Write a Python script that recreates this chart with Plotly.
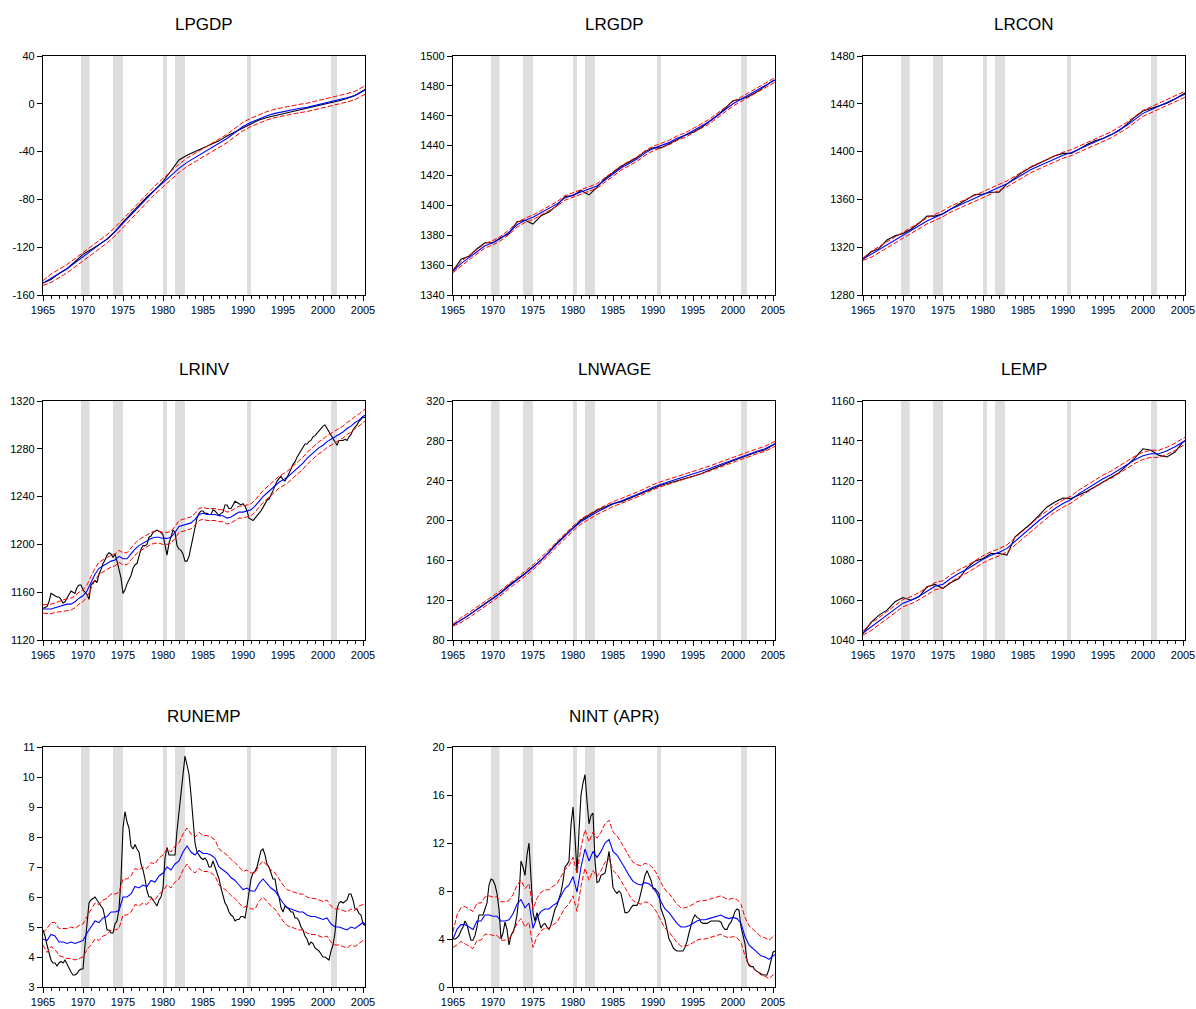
import plotly.graph_objects as go

W, H = 1196, 1009

# ---------------- dates ----------------
X_ANN = list(range(1965, 2006)) + [2005.25]
X_SEMI = [1965 + 0.5 * i for i in range(81)] + [2005.25]
X_QTR = [1965 + 0.25 * i for i in range(162)]

RECESSIONS = [(1969.75, 1970.83), (1973.75, 1975.0), (1980.0, 1980.5),
              (1981.5, 1982.75), (1990.5, 1991.0), (2001.0, 2001.75)]

# ---------------- LPGDP (annual) ----------------
LPGDP_ACT = [-150, -147, -142, -138, -132, -126, -122, -118, -113.5, -107,
             -99, -92, -85, -78, -72, -65, -56, -47, -43, -40,
             -37, -34, -31, -27, -23.5, -20, -16.5, -13.5, -11.5, -10,
             -8, -6.5, -5, -4, -2.5, -1, 0.5, 2.5, 4.5, 7, 11, 12]
LPGDP_FIT = [-150, -146, -142, -138, -133, -128, -123, -118, -113, -107,
             -100, -93, -86, -79, -72, -66, -60, -54, -49, -45,
             -41, -37, -33, -29, -24, -19, -15.5, -12.5, -10, -8,
             -6.5, -5, -4, -3, -1.5, 0, 1.5, 3, 5, 7, 10.5, 11.5]
LPGDP_UP = [-148, -142.5, -138.5, -134.5, -129.5, -124.5, -119.5, -114.5, -109.5, -103.5,
            -96.5, -89.5, -82.5, -75.5, -68.5, -62.5, -56.5, -50.5, -45.5, -41.5,
            -37.5, -33.5, -29.5, -25.5, -20.5, -15.5, -12, -9, -6.5, -4.5,
            -3, -1.5, -0.5, 0.5, 2, 3.5, 5, 6.5, 8.5, 10.5, 14, 15]
LPGDP_LO = [-152, -149.5, -145.5, -141.5, -136.5, -131.5, -126.5, -121.5, -116.5, -110.5,
            -103.5, -96.5, -89.5, -82.5, -75.5, -69.5, -63.5, -57.5, -52.5, -48.5,
            -44.5, -40.5, -36.5, -32.5, -27.5, -22.5, -19, -16, -13.5, -11.5,
            -10, -8.5, -7.5, -6.5, -5, -3.5, -2, -0.5, 1.5, 3.5, 7, 8]

# ---------------- LRGDP (annual) ----------------
LRGDP_ACT = [1356, 1364, 1366, 1371, 1375, 1375, 1378.5, 1381, 1389, 1390,
             1387.5, 1393, 1395.5, 1400, 1406, 1406.5, 1410, 1407, 1412, 1418,
             1422, 1426, 1429, 1432, 1436, 1438.5, 1438.5, 1441, 1444, 1447,
             1449, 1452, 1456, 1460, 1465, 1470, 1471, 1473, 1476, 1480, 1483.5, 1484]
LRGDP_FIT = [1356, 1361, 1365, 1369, 1373, 1375, 1378, 1382, 1387, 1390,
             1392, 1395, 1398, 1401, 1405, 1407, 1409, 1411, 1413, 1417,
             1421, 1425, 1428, 1431, 1435, 1438, 1440, 1442, 1445, 1447,
             1450, 1453, 1456, 1460, 1464, 1468, 1471, 1474, 1477, 1480, 1483, 1484]
LRGDP_UP = [1357, 1362.5, 1366.5, 1370.5, 1374.5, 1376.5, 1379.5, 1383.5, 1388.5, 1391.5,
            1393.5, 1396.5, 1399.5, 1402.5, 1406.5, 1408.5, 1410.5, 1412.5, 1414.5, 1418.5,
            1422.5, 1426.5, 1429.5, 1432.5, 1436.5, 1439.5, 1441.5, 1443.5, 1446.5, 1448.5,
            1451.5, 1454.5, 1457.5, 1461.5, 1465.5, 1469.5, 1472.5, 1475.5, 1478.5, 1481.5, 1484.5, 1485.5]
LRGDP_LO = [1355, 1359.5, 1363.5, 1367.5, 1371.5, 1373.5, 1376.5, 1380.5, 1385.5, 1388.5,
            1390.5, 1393.5, 1396.5, 1399.5, 1403.5, 1405.5, 1407.5, 1409.5, 1411.5, 1415.5,
            1419.5, 1423.5, 1426.5, 1429.5, 1433.5, 1436.5, 1438.5, 1440.5, 1443.5, 1445.5,
            1448.5, 1451.5, 1454.5, 1458.5, 1462.5, 1466.5, 1469.5, 1472.5, 1475.5, 1478.5, 1481.5, 1482.5]

# ---------------- LRCON (annual) ----------------
LRCON_ACT = [1310, 1316, 1319, 1326, 1329.5, 1331.5, 1335, 1340, 1346, 1346,
             1348, 1352, 1356, 1360, 1364, 1364.5, 1366, 1366, 1373, 1378,
             1383, 1387, 1390, 1393, 1396.5, 1398.5, 1398.5, 1402, 1406, 1409,
             1411, 1414, 1417.5, 1423, 1429, 1434, 1436, 1438.5, 1440.5, 1444, 1448, 1449]
LRCON_FIT = [1310, 1314, 1318, 1322, 1326, 1330, 1334, 1338, 1342, 1345,
             1348, 1352, 1355, 1358, 1361, 1364, 1367, 1370, 1373, 1377,
             1381, 1385, 1388, 1391, 1394, 1397, 1399, 1402, 1405, 1408,
             1411, 1414, 1418, 1422, 1427, 1432, 1435, 1438, 1441, 1444, 1447, 1448]
LRCON_UP = [1311, 1316.5, 1320.5, 1324.5, 1328.5, 1332.5, 1336.5, 1340.5, 1344.5, 1347.5,
            1350.5, 1354.5, 1357.5, 1360.5, 1363.5, 1366.5, 1369.5, 1372.5, 1375.5, 1379.5,
            1383.5, 1387.5, 1390.5, 1393.5, 1396.5, 1399.5, 1401.5, 1404.5, 1407.5, 1410.5,
            1413.5, 1416.5, 1420.5, 1424.5, 1429.5, 1434.5, 1437.5, 1440.5, 1443.5, 1446.5, 1449.5, 1450.5]
LRCON_LO = [1309, 1311.5, 1315.5, 1319.5, 1323.5, 1327.5, 1331.5, 1335.5, 1339.5, 1342.5,
            1345.5, 1349.5, 1352.5, 1355.5, 1358.5, 1361.5, 1364.5, 1367.5, 1370.5, 1374.5,
            1378.5, 1382.5, 1385.5, 1388.5, 1391.5, 1394.5, 1396.5, 1399.5, 1402.5, 1405.5,
            1408.5, 1411.5, 1415.5, 1419.5, 1424.5, 1429.5, 1432.5, 1435.5, 1438.5, 1441.5, 1444.5, 1445.5]

# ---------------- LNWAGE (annual) ----------------
LNWAGE_ACT = [95, 100, 105, 111, 116.7, 121.7, 127.7, 135, 140.7, 146.8,
              153.4, 160, 168.5, 177.5, 185, 192.6, 200.3, 205.3, 210.3, 213.6,
              217, 218.7, 222, 225.4, 228.7, 232.7, 235.4, 237.7, 239.7, 242,
              244.4, 247, 250.4, 253.8, 257, 260, 263, 266, 268.8, 271, 275.5, 277]
LNWAGE_FIT = [95, 100, 105, 110.5, 116, 121.5, 127.5, 134, 140, 146.5,
              153, 160, 168, 176.5, 184.5, 192, 199, 204, 208.5, 212.5,
              216.5, 219.5, 222.5, 226, 229.5, 233.5, 236.5, 239, 241.5, 244,
              246.5, 249, 252, 255, 258, 261, 264, 267, 269.5, 272, 276, 277]
LNWAGE_UP = [96, 102.5, 107.5, 113, 118.5, 124, 130, 136.5, 142.5, 149,
             155.5, 162.5, 170.5, 179, 187, 194.5, 201.5, 206.5, 211, 215,
             219, 222, 225, 228.5, 232, 236, 239, 241.5, 244, 246.5,
             249, 251.5, 254.5, 257.5, 260.5, 263.5, 266.5, 269.5, 272, 274.5, 278.5, 279.5]
LNWAGE_LO = [94, 97.5, 102.5, 108, 113.5, 119, 125, 131.5, 137.5, 144,
             150.5, 157.5, 165.5, 174, 182, 189.5, 196.5, 201.5, 206, 210,
             214, 217, 220, 223.5, 227, 231, 234, 236.5, 239, 241.5,
             244, 246.5, 249.5, 252.5, 255.5, 258.5, 261.5, 264.5, 267, 269.5, 273.5, 274.5]

# ---------------- LEMP (annual) ----------------
LEMP_ACT = [1043.3, 1048.8, 1052.5, 1055, 1059.2, 1061.3, 1060, 1061.7, 1066.7, 1067.9,
            1065.9, 1068.9, 1070.9, 1076.2, 1079.6, 1080.9, 1083.4, 1083.4, 1082.6, 1091.8,
            1095.1, 1098.5, 1102.6, 1106.8, 1109.3, 1111.3, 1111, 1112.7, 1114.7, 1116.9,
            1119.4, 1121.9, 1124, 1127.7, 1131.4, 1136, 1135.3, 1132.7, 1131.9, 1134.4, 1139.4, 1140]
LEMP_FIT = [1043.5, 1046.5, 1049.5, 1052.5, 1055.5, 1058.5, 1060, 1062, 1064.5, 1067,
            1068, 1071, 1073.5, 1075.5, 1078, 1080.5, 1082.5, 1084, 1086, 1089.5,
            1093, 1096.5, 1100, 1103, 1106, 1108.5, 1110.5, 1113.5, 1116, 1118.5,
            1121, 1123, 1125.5, 1128, 1130.5, 1132.5, 1133.5, 1133.5, 1135, 1137, 1139.5, 1140]
LEMP_UP = [1044.5, 1048.3, 1051.3, 1054.3, 1057.3, 1060.3, 1061.8, 1063.8, 1066.3, 1068.8,
           1069.8, 1072.8, 1075.3, 1077.3, 1079.8, 1082.3, 1084.3, 1085.8, 1087.8, 1091.3,
           1094.8, 1098.3, 1101.8, 1104.8, 1107.8, 1110.3, 1112.3, 1115.3, 1117.8, 1120.3,
           1122.8, 1124.8, 1127.3, 1129.8, 1132.3, 1134.3, 1135.3, 1135.3, 1136.8, 1138.8, 1141.3, 1141.8]
LEMP_LO = [1042.5, 1044.7, 1047.7, 1050.7, 1053.7, 1056.7, 1058.2, 1060.2, 1062.7, 1065.2,
           1066.2, 1069.2, 1071.7, 1073.7, 1076.2, 1078.7, 1080.7, 1082.2, 1084.2, 1087.7,
           1091.2, 1094.7, 1098.2, 1101.2, 1104.2, 1106.7, 1108.7, 1111.7, 1114.2, 1116.7,
           1119.2, 1121.2, 1123.7, 1126.2, 1128.7, 1130.7, 1131.7, 1131.7, 1133.2, 1135.2, 1137.7, 1138.2]

# ---------------- LRINV (actual quarterly, fit/bands semi-annual) ----------------
LRINV_ACT = [1146.5, 1147, 1148, 1152, 1159, 1158, 1157, 1156, 1156, 1154, 1151, 1152,
             1155, 1158, 1161, 1160, 1159, 1164, 1166, 1166, 1162, 1160, 1158, 1154,
             1166, 1168, 1170, 1168, 1175, 1179, 1184, 1187, 1191, 1193, 1192, 1189,
             1192, 1186, 1180, 1172, 1159, 1162, 1167, 1170, 1174, 1180, 1183, 1184,
             1191, 1196, 1199, 1199, 1200, 1206, 1207, 1210, 1211, 1212, 1211, 1210,
             1208, 1199, 1191, 1201, 1206, 1212, 1210, 1199, 1196, 1195, 1192, 1186,
             1186, 1190, 1198, 1206, 1215, 1222, 1226, 1228, 1228, 1226, 1226, 1225,
             1225, 1229, 1228, 1226, 1224, 1226, 1227, 1233, 1233, 1230, 1230, 1233,
             1236, 1235, 1234, 1233, 1234, 1232, 1228, 1222, 1221, 1220, 1222, 1224,
             1226, 1228, 1231, 1234, 1237, 1238, 1241, 1245, 1249, 1253, 1255, 1257,
             1254, 1253, 1256, 1259, 1263, 1267, 1269, 1273, 1276, 1279, 1282, 1284,
             1284, 1286, 1287, 1290, 1291, 1293, 1295, 1297, 1299, 1300, 1297, 1295,
             1292, 1289, 1286, 1283, 1287, 1287, 1287, 1288, 1287, 1290, 1292, 1296,
             1298, 1300, 1303, 1305, 1306.5, 1306]
LRINV_FIT = [1146, 1146, 1146, 1147, 1148, 1149, 1150, 1150, 1152, 1155,
             1157, 1161, 1168, 1175, 1180, 1182, 1184, 1186, 1187, 1190,
             1188, 1188, 1192, 1196, 1199, 1201, 1203, 1205, 1206, 1206,
             1205, 1205, 1206, 1210, 1215, 1216, 1217, 1218, 1221, 1225,
             1226, 1225, 1225, 1225, 1224, 1224, 1222, 1223, 1225, 1227,
             1227, 1228, 1229, 1232, 1236, 1240, 1243, 1246, 1249, 1252,
             1254, 1256, 1259, 1262, 1265, 1268, 1272, 1275, 1278, 1281,
             1283, 1286, 1288, 1290, 1292, 1294, 1297, 1299, 1302, 1304, 1307, 1308]
LRINV_UP = [1149.5, 1149.5, 1150, 1151, 1152.5, 1153.5, 1154.5, 1155, 1157, 1160,
            1162, 1166, 1173, 1180, 1185, 1187, 1189, 1191, 1192, 1195,
            1193, 1193, 1197, 1201, 1204, 1206, 1208, 1210, 1211, 1211,
            1210, 1210, 1211, 1215, 1220, 1221, 1222, 1223, 1226, 1230,
            1231, 1230, 1230, 1230, 1229, 1229, 1227, 1228, 1230, 1232,
            1232, 1233, 1234, 1237, 1241, 1245, 1248, 1251, 1254, 1257,
            1259, 1261, 1264, 1267, 1270, 1273, 1277, 1280, 1283, 1286,
            1288, 1291, 1293, 1295, 1297, 1299, 1302, 1304, 1307, 1309, 1312, 1313]
LRINV_LO = [1142.5, 1142.5, 1142, 1143, 1143.5, 1144.5, 1145, 1145, 1147, 1150,
            1152, 1156, 1163, 1170, 1175, 1177, 1179, 1181, 1182, 1185,
            1183, 1183, 1187, 1191, 1194, 1196, 1198, 1200, 1201, 1201,
            1200, 1200, 1201, 1205, 1210, 1211, 1212, 1213, 1216, 1220,
            1221, 1220, 1220, 1220, 1219, 1219, 1217, 1218, 1220, 1222,
            1222, 1223, 1224, 1227, 1231, 1235, 1238, 1241, 1244, 1247,
            1249, 1251, 1254, 1257, 1260, 1263, 1267, 1270, 1273, 1276,
            1278, 1281, 1283, 1285, 1287, 1289, 1292, 1294, 1297, 1299, 1302, 1303]

# ---------------- RUNEMP ----------------
RUNEMP_ACT = [4.9, 4.7, 4.4, 4.1, 3.9, 3.8, 3.8, 3.7, 3.8, 3.85, 3.8, 3.9,
              3.75, 3.6, 3.5, 3.4, 3.4, 3.45, 3.55, 3.6, 3.6, 4.4, 5.0, 5.8,
              5.9, 5.95, 6.0, 5.9, 5.8, 5.7, 5.6, 5.3, 4.9, 4.9, 4.8, 4.8,
              5.1, 5.2, 5.6, 6.6, 8.3, 8.85, 8.5, 8.3, 7.7, 7.6, 7.75, 7.6,
              7.5, 7.1, 6.9, 6.6, 6.2, 6.0, 6.0, 5.9, 5.8, 5.7, 5.9, 6.0,
              6.3, 7.3, 7.65, 7.4, 7.4, 7.4, 7.4, 8.2, 8.8, 9.4, 9.9, 10.7,
              10.4, 10.1, 9.4, 8.5, 7.8, 7.5, 7.4, 7.3, 7.25, 7.3, 7.2, 7.0,
              7.0, 7.2, 7.0, 6.8, 6.6, 6.3, 6.0, 5.8, 5.7, 5.5, 5.4, 5.35,
              5.2, 5.25, 5.25, 5.35, 5.35, 5.3, 5.7, 6.1, 6.6, 6.8, 6.85, 7.0,
              7.3, 7.55, 7.6, 7.4, 7.1, 7.0, 6.8, 6.6, 6.6, 6.2, 6.0, 5.65,
              5.5, 5.7, 5.65, 5.6, 5.5, 5.5, 5.3, 5.3, 5.2, 5.0, 4.9, 4.7,
              4.6, 4.4, 4.5, 4.45, 4.3, 4.25, 4.2, 4.1, 4.0, 4.0, 3.95, 3.9,
              4.2, 4.4, 4.8, 5.6, 5.8, 5.85, 5.8, 5.85, 5.9, 6.1, 6.1, 5.9,
              5.6, 5.6, 5.45, 5.4, 5.1, 5.05]
RUNEMP_FIT = [4.6, 4.55, 4.75, 4.7, 4.5, 4.5, 4.45, 4.5, 4.45, 4.5,
              4.55, 4.8, 5.0, 5.2, 5.15, 5.3, 5.35, 5.5, 5.5, 5.55,
              6.0, 6.0, 6.1, 6.35, 6.3, 6.4, 6.35, 6.55, 6.5, 6.7,
              6.8, 7.0, 6.9, 7.1, 7.2, 7.5, 7.7, 7.5, 7.4, 7.55,
              7.45, 7.45, 7.4, 7.3, 7.0, 6.9, 6.8, 6.65, 6.55, 6.4,
              6.25, 6.3, 6.2, 6.2, 6.45, 6.6, 6.45, 6.3, 6.2, 6.0,
              5.8, 5.65, 5.6, 5.55, 5.5, 5.5, 5.4, 5.35, 5.35, 5.3,
              5.25, 5.3, 5.1, 5.0, 5.0, 4.95, 4.9, 5.0, 4.95, 5.05, 5.15, 5.1]
RUNEMP_UP = [4.8, 4.95, 5.15, 5.15, 4.95, 4.95, 4.95, 5.0, 4.95, 5.05,
             5.1, 5.35, 5.6, 5.8, 5.75, 5.9, 5.95, 6.1, 6.1, 6.15,
             6.6, 6.6, 6.7, 6.95, 6.9, 7.0, 6.95, 7.15, 7.1, 7.3,
             7.4, 7.6, 7.5, 7.7, 7.8, 8.1, 8.3, 8.1, 8.0, 8.15,
             8.05, 8.05, 8.0, 7.9, 7.6, 7.5, 7.4, 7.25, 7.15, 7.0,
             6.85, 6.9, 6.8, 6.8, 7.05, 7.2, 7.05, 6.9, 6.8, 6.6,
             6.4, 6.25, 6.2, 6.15, 6.1, 6.1, 6.0, 5.95, 5.95, 5.9,
             5.85, 5.9, 5.7, 5.6, 5.6, 5.55, 5.5, 5.6, 5.55, 5.7, 5.75, 5.7]
RUNEMP_LO = [4.4, 4.15, 4.35, 4.25, 4.05, 4.0, 3.95, 3.95, 3.9, 3.95,
             4.0, 4.25, 4.4, 4.6, 4.55, 4.7, 4.75, 4.9, 4.9, 4.95,
             5.4, 5.4, 5.5, 5.75, 5.7, 5.8, 5.75, 5.95, 5.9, 6.1,
             6.2, 6.4, 6.3, 6.5, 6.6, 6.9, 7.1, 6.9, 6.8, 6.95,
             6.85, 6.85, 6.8, 6.7, 6.4, 6.3, 6.2, 6.05, 5.95, 5.8,
             5.65, 5.7, 5.6, 5.6, 5.85, 6.0, 5.85, 5.7, 5.6, 5.4,
             5.2, 5.05, 5.0, 4.95, 4.9, 4.9, 4.8, 4.75, 4.75, 4.7,
             4.65, 4.7, 4.5, 4.4, 4.4, 4.35, 4.3, 4.4, 4.35, 4.45, 4.55, 4.5]

# ---------------- NINT (APR) ----------------
NINT_ACT = [4.0, 4.0, 4.1, 4.3, 4.7, 5.0, 5.5, 5.2, 4.5, 3.9, 3.9, 4.3,
            5.0, 6.0, 6.0, 6.0, 6.5, 7.0, 8.5, 9.0, 8.9, 8.5, 7.8, 6.5,
            4.0, 4.5, 5.4, 4.8, 3.5, 4.3, 4.6, 5.1, 6.0, 7.6, 10.5, 10.0,
            9.3, 11.0, 12.0, 9.5, 6.2, 5.5, 6.2, 5.5, 4.9, 5.2, 5.3, 5.0,
            4.8, 5.2, 5.8, 6.5, 6.8, 7.3, 7.9, 8.8, 10.0, 10.2, 10.5, 13.5,
            15.0, 12.5, 9.5, 13.0, 16.0, 17.0, 17.7, 15.5, 13.6, 14.3, 14.5, 10.5,
            8.7, 8.8, 9.3, 9.4, 9.5, 10.3, 11.3, 10.0, 8.3, 8.0, 7.8, 8.0,
            7.8, 7.0, 6.2, 6.2, 6.3, 6.6, 6.8, 6.8, 6.8, 7.2, 8.0, 8.7,
            9.3, 9.7, 9.3, 8.9, 8.2, 8.2, 8.0, 7.8, 6.5, 6.0, 5.6, 4.8,
            4.0, 3.7, 3.3, 3.1, 3.0, 3.0, 3.0, 3.0, 3.3, 3.8, 4.5, 5.2,
            5.7, 6.0, 5.8, 5.7, 5.4, 5.3, 5.3, 5.3, 5.4, 5.5, 5.5, 5.5,
            5.5, 5.5, 5.4, 5.0, 4.8, 4.8, 5.2, 5.4, 5.8, 6.3, 6.5, 6.4,
            5.0, 4.2, 3.6, 2.2, 1.8, 1.7, 1.7, 1.4, 1.3, 1.2, 1.1, 1.0,
            1.0, 1.0, 1.5, 2.2, 2.9, 3.0]
NINT_FIT = [4.0, 4.8, 5.2, 5.2, 5.0, 4.8, 5.5, 5.5, 6.0, 6.0,
            5.9, 5.9, 5.5, 5.5, 5.6, 6.1, 6.9, 7.3, 6.6, 7.0,
            4.9, 5.8, 6.3, 6.5, 6.5, 6.8, 7.0, 7.6, 8.2, 8.5,
            9.2, 7.9, 10.0, 11.5, 10.5, 11.3, 10.8, 11.3, 12.0, 12.3,
            11.3, 11.0, 10.5, 9.9, 9.3, 8.8, 8.6, 8.5, 8.7, 8.6,
            8.3, 7.8, 7.1, 6.5, 6.2, 5.7, 5.3, 5.0, 5.0, 5.1,
            5.3, 5.5, 5.6, 5.6, 5.7, 5.8, 5.9, 6.0, 5.8, 5.7,
            5.8, 5.7, 5.3, 4.2, 3.5, 3.2, 2.9, 2.6, 2.5, 2.3, 2.6, 2.7]
NINT_UP = [4.6, 6.0, 6.6, 6.7, 6.5, 6.3, 7.0, 7.0, 7.5, 7.6,
           7.5, 7.5, 7.1, 7.1, 7.2, 7.7, 8.5, 8.9, 8.2, 8.6,
           6.5, 7.4, 7.9, 8.1, 8.1, 8.4, 8.6, 9.2, 9.8, 10.1,
           10.8, 9.5, 11.6, 13.1, 12.1, 12.9, 12.4, 12.9, 13.6, 13.9,
           12.9, 12.6, 12.1, 11.5, 10.9, 10.4, 10.2, 10.1, 10.3, 10.2,
           9.9, 9.4, 8.7, 8.1, 7.8, 7.3, 6.9, 6.6, 6.6, 6.7,
           6.9, 7.1, 7.2, 7.2, 7.3, 7.4, 7.5, 7.6, 7.4, 7.3,
           7.4, 7.3, 6.9, 5.8, 5.1, 4.8, 4.5, 4.2, 4.1, 3.9, 4.2, 4.3]
NINT_LO = [3.3, 3.5, 3.8, 3.6, 3.4, 3.2, 3.9, 3.9, 4.4, 4.4,
           4.3, 4.3, 3.9, 3.9, 4.0, 4.5, 5.3, 5.7, 5.0, 5.4,
           3.3, 4.2, 4.7, 4.9, 4.9, 5.2, 5.4, 6.0, 6.6, 6.9,
           7.6, 6.3, 8.4, 9.9, 8.9, 9.7, 9.2, 9.7, 10.4, 10.7,
           9.7, 9.4, 8.9, 8.3, 7.7, 7.2, 7.0, 6.9, 7.1, 7.0,
           6.7, 6.2, 5.5, 4.9, 4.6, 4.1, 3.7, 3.4, 3.4, 3.5,
           3.7, 3.9, 4.0, 4.0, 4.1, 4.2, 4.3, 4.4, 4.2, 4.1,
           4.2, 4.1, 3.7, 2.6, 1.9, 1.6, 1.3, 1.0, 0.9, 0.7, 1.0, 1.1]

PANELS = [
    ("LPGDP", X_ANN, LPGDP_ACT, X_ANN, LPGDP_FIT, LPGDP_UP, LPGDP_LO, (-160, 40), 40),
    ("LRGDP", X_ANN, LRGDP_ACT, X_ANN, LRGDP_FIT, LRGDP_UP, LRGDP_LO, (1340, 1500), 20),
    ("LRCON", X_ANN, LRCON_ACT, X_ANN, LRCON_FIT, LRCON_UP, LRCON_LO, (1280, 1480), 40),
    ("LRINV", X_QTR, LRINV_ACT, X_SEMI, LRINV_FIT, LRINV_UP, LRINV_LO, (1120, 1320), 40),
    ("LNWAGE", X_ANN, LNWAGE_ACT, X_ANN, LNWAGE_FIT, LNWAGE_UP, LNWAGE_LO, (80, 320), 40),
    ("LEMP", X_ANN, LEMP_ACT, X_ANN, LEMP_FIT, LEMP_UP, LEMP_LO, (1040, 1160), 20),
    ("RUNEMP", X_QTR, RUNEMP_ACT, X_SEMI, RUNEMP_FIT, RUNEMP_UP, RUNEMP_LO, (3, 11), 1),
    ("NINT (APR)", X_QTR, NINT_ACT, X_SEMI, NINT_FIT, NINT_UP, NINT_LO, (0, 20), 4),
]

# pixel layout of plot areas
COLS = [(43, 365), (453, 775), (863, 1185)]
ROWS = [(56, 295), (401, 640), (747, 987)]

FONT = "Liberation Sans, Arial, sans-serif"

fig = go.Figure()
layout = dict(width=W, height=H, margin=dict(l=0, r=0, t=0, b=0, pad=0, autoexpand=False),
              paper_bgcolor="white", plot_bgcolor="white", showlegend=False,
              font=dict(family=FONT, color="black"))
shapes, annotations = [], []

for i, (name, xa, act, xf, fit, up, lo, yr, dt) in enumerate(PANELS):
    n = i + 1
    sfx = "" if n == 1 else str(n)
    r, c = divmod(i, 3)
    x0p, x1p = COLS[c]
    y0p, y1p = ROWS[r]
    xref, yref = "x" + sfx, "y" + sfx

    for (a, b) in RECESSIONS:
        shapes.append(dict(type="rect", xref=xref, yref=yref + " domain",
                           x0=a, x1=b, y0=0, y1=1, fillcolor="#dedede",
                           line=dict(width=0), layer="below"))

    fig.add_trace(go.Scatter(x=xa, y=act, mode="lines", xaxis=xref, yaxis=yref,
                             line=dict(color="black", width=1.1)))
    fig.add_trace(go.Scatter(x=xf, y=fit, mode="lines", xaxis=xref, yaxis=yref,
                             line=dict(color="#0000ff", width=1.1)))
    for band in (up, lo):
        fig.add_trace(go.Scatter(x=xf, y=band, mode="lines", xaxis=xref, yaxis=yref,
                                 line=dict(color="#ff0000", width=1, dash="5px,2px")))

    yt = list(range(yr[0], yr[1] + 1, dt))
    layout["xaxis" + sfx] = dict(
        domain=[x0p / W, x1p / W], anchor=yref, range=[1965, 2005.25], automargin=False,
        tickmode="array", tickvals=list(range(1965, 2006, 5)),
        ticktext=[str(v) for v in range(1965, 2006, 5)],
        ticks="outside", ticklen=5, tickwidth=1, tickcolor="black",
        minor=dict(tick0=1965, dtick=1, ticks="outside", ticklen=3, tickcolor="black", tickwidth=1),
        showline=True, linecolor="black", linewidth=1.3, mirror=True,
        showgrid=False, zeroline=False, tickfont=dict(size=11, family=FONT, color="black"))
    layout["yaxis" + sfx] = dict(
        domain=[1 - y1p / H, 1 - y0p / H], anchor=xref, range=list(yr), automargin=False,
        tickmode="array", tickvals=yt, ticktext=[str(v) for v in yt],
        ticks="outside", ticklen=5, tickwidth=1, tickcolor="black",
        showline=True, linecolor="black", linewidth=1.3, mirror=True,
        showgrid=False, zeroline=False, tickfont=dict(size=11, family=FONT, color="black"))

    annotations.append(dict(text=name, xref="paper", yref="paper",
                            x=(x0p + x1p) / 2 / W, y=1 - (y0p - 31) / H,
                            xanchor="center", yanchor="middle", showarrow=False,
                            font=dict(size=17, family=FONT, color="black")))

layout["shapes"] = shapes
layout["annotations"] = annotations
fig.update_layout(**layout)
fig.write_html("out.html")
